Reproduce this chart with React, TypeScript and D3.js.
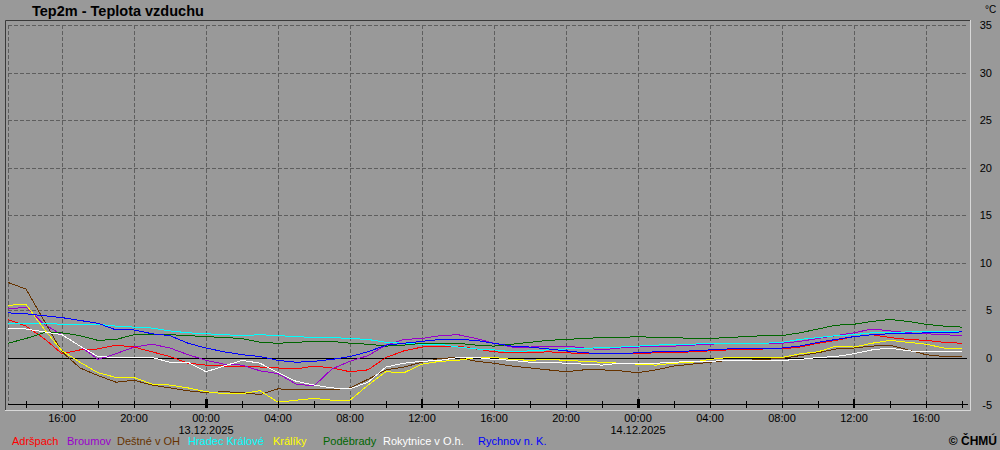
import React from "react";
import * as d3 from "d3";

// ---- data (hourly values, °C), from 12.12.2025 13:00 to 14.12.2025 18:00 ----
const START = new Date(2025, 11, 12, 13, 0);
const END = new Date(2025, 11, 14, 18, 0);

const stations = ["Adršpach", "Broumov", "Deštné v OH", "Hradec Králové", "Králíky", "Poděbrady", "Rokytnice v O.h.", "Rychnov n. K."];
const colors = ["#ff0000", "#9900cc", "#663300", "#00ffff", "#ffff00", "#006600", "#ffffff", "#0000ff"];

const adrspach = [4.0, 3.3, 2.0, 0.4, 0.8, 0.9, 1.3, 1.1, 0.6, 0.1, -0.6, -0.8, -0.9, -0.9, -1.0, -1.1, -1.2, -0.9, -1.1, -1.5, -1.3, 0.0, 0.7, 1.1, 1.2, 1.2, 0.9, 0.6, 0.5, 0.5, 0.6, 0.5, 0.4, 0.4, 0.4, 0.4, 0.5, 0.5, 0.6, 0.7, 0.8, 0.8, 0.9, 0.9, 1.1, 1.5, 1.8, 2.2, 2.4, 2.1, 1.9, 1.8, 1.6, 1.5];
const broumov = [5.1, 5.3, 3.5, 2.4, 1.2, -0.2, 0.4, 1.1, 1.4, 1.0, 0.3, -0.3, -0.7, -0.8, -1.4, -1.7, -2.8, -3.0, -1.2, -0.4, 0.2, 1.3, 1.9, 2.0, 2.3, 2.4, 2.0, 1.5, 1.1, 1.1, 1.2, 1.2, 1.0, 0.8, 1.0, 1.1, 1.2, 1.2, 1.3, 1.4, 1.5, 1.5, 1.5, 1.5, 1.7, 2.0, 2.3, 2.6, 3.0, 2.8, 2.6, 2.5, 2.4, 2.3];
const destne = [7.9, 7.2, 3.9, 0.6, -1.1, -1.9, -2.6, -2.4, -2.9, -3.2, -3.5, -3.7, -3.6, -3.7, -3.9, -3.3, -3.4, -3.4, -3.4, -3.2, -2.3, -1.3, -1.0, -0.5, -0.1, 0.0, -0.4, -0.6, -0.9, -1.1, -1.3, -1.5, -1.3, -1.3, -1.4, -1.6, -1.3, -0.9, -0.7, -0.5, -0.3, -0.3, -0.2, -0.1, 0.2, 0.5, 0.9, 1.0, 1.2, 1.3, 0.8, 0.3, 0.1, 0.1];
const hradec = [3.6, 3.6, 3.6, 3.5, 3.5, 3.5, 3.3, 3.2, 3.1, 2.8, 2.6, 2.5, 2.4, 2.3, 2.4, 2.3, 2.2, 2.1, 2.1, 2.0, 1.9, 1.6, 1.5, 1.4, 1.4, 1.1, 0.9, 0.8, 0.6, 0.7, 0.8, 0.9, 0.9, 1.1, 1.1, 1.2, 1.3, 1.4, 1.4, 1.5, 1.5, 1.5, 1.5, 1.6, 1.9, 2.1, 2.3, 2.4, 2.6, 2.6, 2.7, 2.7, 2.7, 2.7];
const kraliky = [5.5, 5.6, 3.0, 0.7, -0.5, -1.6, -2.1, -2.1, -2.8, -2.9, -3.2, -3.6, -3.8, -3.8, -3.5, -4.7, -4.5, -4.3, -4.5, -4.5, -2.9, -1.5, -1.6, -0.7, -0.4, -0.3, 0.0, 0.0, -0.2, -0.3, -0.2, -0.3, -0.4, -0.5, -0.6, -0.7, -0.8, -0.6, -0.5, -0.2, 0.0, 0.0, 0.0, 0.0, 0.4, 0.6, 1.2, 1.1, 1.5, 1.8, 1.6, 1.4, 1.0, 0.9];
const podebrady = [1.5, 2.0, 2.6, 2.6, 2.3, 1.8, 1.9, 2.4, 2.4, 2.4, 2.3, 2.2, 2.1, 2.0, 1.6, 1.5, 1.6, 1.7, 1.7, 1.5, 1.4, 1.2, 1.3, 1.5, 1.5, 1.5, 1.3, 1.2, 1.4, 1.6, 1.8, 1.9, 2.0, 2.1, 2.1, 2.2, 2.1, 2.1, 2.0, 2.0, 2.1, 2.2, 2.3, 2.3, 2.6, 3.0, 3.4, 3.5, 3.8, 4.0, 3.8, 3.5, 3.3, 3.2];
const rokytnice = [3.1, 3.0, 2.7, 2.4, 1.2, 0.1, 0.0, 0.0, 0.0, -0.5, -0.5, -1.5, -0.9, -0.3, -0.6, -1.6, -2.5, -2.9, -3.2, -3.3, -2.6, -1.0, -0.6, -0.4, -0.3, 0.0, 0.0, -0.2, -0.3, -0.5, -0.5, -0.6, -0.7, -0.8, -0.6, -0.6, -0.6, -0.5, -0.4, -0.4, -0.3, -0.3, -0.3, -0.3, -0.2, 0.0, 0.1, 0.4, 0.8, 1.0, 0.7, 0.6, 0.6, 0.6];
const rychnov = [4.7, 4.6, 4.4, 4.2, 3.9, 3.6, 2.9, 2.9, 2.5, 2.3, 1.5, 1.0, 0.6, 0.3, 0.1, -0.3, -0.5, -0.4, -0.2, 0.1, 0.6, 1.3, 1.5, 1.7, 1.9, 1.9, 1.8, 1.5, 1.2, 1.1, 0.9, 0.7, 0.5, 0.4, 0.4, 0.5, 0.6, 0.6, 0.7, 0.8, 0.9, 0.9, 1.0, 1.0, 1.2, 1.6, 1.9, 2.2, 2.4, 2.5, 2.5, 2.6, 2.6, 2.7];

const seriesValues = [adrspach, broumov, destne, hradec, kraliky, podebrady, rokytnice, rychnov];
const yTicks = [-5, 0, 5, 10, 15, 20, 25, 30, 35];

// ---- layout ----
const W = 1000, H = 450;
const X0 = 8, X1 = 962, Y0 = 405, Y1 = 25;
const legendX = [12, 67, 117, 188, 273, 323, 383, 478];
const FONT = "'Liberation Sans', Arial, sans-serif";

export default function App() {
  const x = d3.scaleTime().domain([START, END]).range([X0, X1]);
  const y = d3.scaleLinear().domain([-5, 35]).range([Y0, Y1]);
  const line = d3.line<number>()
    .x((_, i) => x(d3.timeHour.offset(START, i)))
    .y((d) => y(d));

  const gridTimes = d3.timeHour.every(4)!.range(START, d3.timeHour.offset(END, 1)).filter((t) => t.getHours() % 4 === 0);
  const tickTimes = d3.timeHour.every(2)!.range(START, d3.timeHour.offset(END, 1));
  const fmt = d3.timeFormat("%H:%M");
  const fmtDate = d3.timeFormat("%d.%m.%Y");
  const midnights = d3.timeDay.range(START, END);

  return (
    <svg width={W} height={H} style={{ position: "absolute", left: 0, top: 0 }} fontFamily={FONT}>
      <rect x={0} y={0} width={W} height={H} fill="#999999" />
      {/* frame */}
      <line x1={5.5} y1={20.5} x2={970} y2={20.5} stroke="#3a3a3a" />
      <line x1={5.5} y1={20.5} x2={5.5} y2={410} stroke="#3a3a3a" />
      <line x1={970.5} y1={20} x2={970.5} y2={410.5} stroke="#d8d8d8" />
      <line x1={5} y1={410.5} x2={970.5} y2={410.5} stroke="#d8d8d8" />
      {/* title */}
      <text x={32} y={16} fontSize={14.5} fontWeight="bold" fill="#000">Tep2m - Teplota vzduchu</text>
      <text x={985} y={13} fontSize={10} fill="#000">°C</text>
      {/* horizontal grid */}
      {yTicks.filter((t) => t > 0).map((t) => (
        <line key={"h" + t} x1={X0} x2={967} y1={Math.round(y(t)) + 0.5} y2={Math.round(y(t)) + 0.5} stroke="#5e5e5e" strokeDasharray="4,2" />
      ))}
      {/* vertical grid */}
      <line x1={X0 + 0.5} x2={X0 + 0.5} y1={Y1} y2={Y0} stroke="#5e5e5e" strokeDasharray="4,2" />
      {gridTimes.map((t, i) => (
        <line key={"v" + i} x1={Math.round(x(t)) + 0.5} x2={Math.round(x(t)) + 0.5} y1={Y1} y2={Y0} stroke="#5e5e5e" strokeDasharray="4,2" />
      ))}
      {/* zero line */}
      <line x1={X0} x2={967} y1={Math.round(y(0)) + 0.5} y2={Math.round(y(0)) + 0.5} stroke="#000" />
      {/* y labels */}
      {yTicks.map((t) => (
        <text key={"yl" + t} x={992} y={y(t) + 4} fontSize={11} textAnchor="end" fill="#000">{t}</text>
      ))}
      {/* series */}
      {seriesValues.map((vals, i) => (
        <path key={stations[i]} d={line(vals) || ""} fill="none" stroke={colors[i]} strokeWidth={1} shapeRendering="crispEdges" />
      ))}
      {/* x axis */}
      <line x1={X0} x2={968} y1={Y0 - 0.5} y2={Y0 - 0.5} stroke="#000" />
      {tickTimes.map((t, i) => {
        const h = t.getHours();
        const major = h === 0 || h === 12;
        const w = h === 0 ? 3 : h === 12 ? 2 : 1;
        return (
          <rect key={"t" + i} x={Math.round(x(t)) - Math.floor(w / 2)} y={major ? 399 : 401} width={w} height={major ? 9 : 7} fill="#000" />
        );
      })}
      {gridTimes.map((t, i) => (
        <text key={"xl" + i} x={x(t)} y={422} fontSize={11} textAnchor="middle" fill="#000">{fmt(t)}</text>
      ))}
      {midnights.map((t, i) => (
        <text key={"d" + i} x={x(t)} y={434} fontSize={11} textAnchor="middle" fill="#000">{fmtDate(t)}</text>
      ))}
      {/* legend */}
      {stations.map((s, i) => (
        <text key={"lg" + s} x={legendX[i]} y={445} fontSize={11} fill={colors[i]}>{s}</text>
      ))}
      <text x={997} y={445} fontSize={12} fontWeight="bold" textAnchor="end" fill="#000">© ČHMÚ</text>
    </svg>
  );
}
